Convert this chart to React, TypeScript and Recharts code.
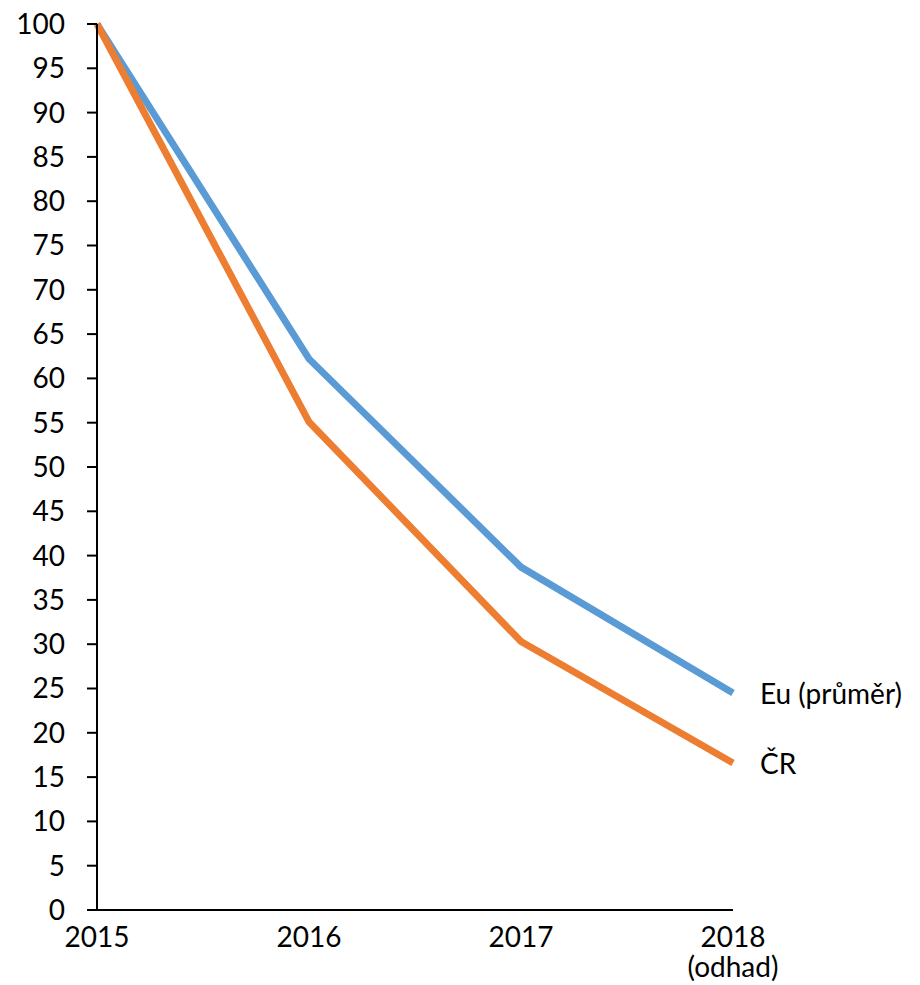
import { LineChart, Line, XAxis, YAxis, LabelList } from "recharts";

const YEARS = ["2015", "2016", "2017", "2018"];
const YEAR_NOTES = ["", "", "", "(odhad)"];
const EU_VALUES = [100, 62.2, 38.7, 24.5];
const CR_VALUES = [100, 55.1, 30.3, 16.6];
const Y_TICKS = [0, 5, 10, 15, 20, 25, 30, 35, 40, 45, 50, 55, 60, 65, 70, 75, 80, 85, 90, 95, 100];

const FONT = "Lato, 'Open Sans', sans-serif";
const FONT_SIZE = 28;
const EU_COLOR = "#5B9BD5";
const CR_COLOR = "#ED7D31";

const data = YEARS.map((y, i) => ({ year: y, eu: EU_VALUES[i], cr: CR_VALUES[i] }));

function YearTick(props: any) {
  const { x, payload, index } = props;
  const note = YEAR_NOTES[index] ?? "";
  // baselines measured from the axis line at y=910
  return (
    <g>
      <text x={x} y={947} textAnchor="middle" fontSize={FONT_SIZE} fontFamily={FONT} fill="#000">
        {payload.value}
      </text>
      {note && (
        <text x={x} y={977} textAnchor="middle" fontSize={FONT_SIZE} fontFamily={FONT} fill="#000">
          {note}
        </text>
      )}
    </g>
  );
}

function endLabel(text: string) {
  return (props: any) => {
    const { x, y, index } = props;
    if (index !== YEARS.length - 1) return null;
    return (
      <text x={x + 27} y={y} dominantBaseline="central" fontSize={FONT_SIZE} fontFamily={FONT} fill="#000">
        {text}
      </text>
    );
  };
}

export default function App() {
  return (
    <div style={{ position: "absolute", left: 0, top: 0, background: "#fff" }}>
      <LineChart width={920} height={985} data={data} margin={{ top: 24, right: 187, left: 0, bottom: 0 }}>
        <XAxis
          dataKey="year"
          tick={<YearTick />}
          tickLine={false}
          axisLine={{ stroke: "#000", strokeWidth: 2 }}
          height={75}
          interval={0}
        />
        <YAxis
          domain={[0, 100]}
          ticks={Y_TICKS}
          interval={0}
          width={97}
          tickSize={10}
          tickMargin={22}
          tickLine={{ stroke: "#000", strokeWidth: 2 }}
          axisLine={{ stroke: "#000", strokeWidth: 2 }}
          tick={{ fontSize: FONT_SIZE, fontFamily: FONT, fill: "#000" }}
        />
        <Line
          type="linear"
          dataKey="eu"
          stroke={EU_COLOR}
          strokeWidth={7}
          dot={false}
          isAnimationActive={false}
        >
          <LabelList dataKey="eu" content={endLabel("Eu (průměr)")} />
        </Line>
        <Line
          type="linear"
          dataKey="cr"
          stroke={CR_COLOR}
          strokeWidth={7}
          dot={false}
          isAnimationActive={false}
        >
          <LabelList dataKey="cr" content={endLabel("ČR")} />
        </Line>
      </LineChart>
    </div>
  );
}
